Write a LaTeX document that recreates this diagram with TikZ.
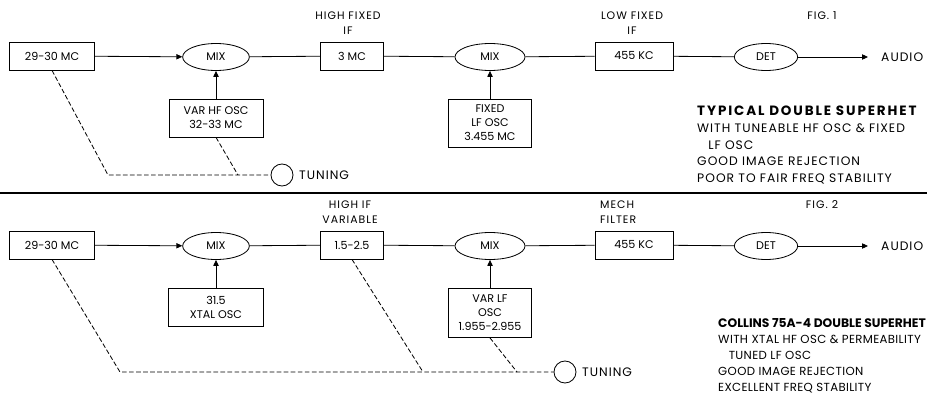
\documentclass[tikz,border=0pt]{standalone}
\usepackage{fontspec}
\setmainfont{Poppins}[Ligatures={NoCommon}]
\newfontfamily\descafont{Poppins}[Ligatures={NoCommon}, LetterSpace=8]
\newfontfamily\headafont{Poppins}[Ligatures={NoCommon}, LetterSpace=14]
\newfontfamily\descbfont{Poppins}[Ligatures={NoCommon}, LetterSpace=3]
\newfontfamily\headbfont{Poppins}[Ligatures={NoCommon}]
\newfontfamily\wordfont{Poppins}[Ligatures={NoCommon}, LetterSpace=8]
\newfontfamily\labelfont{Poppins}[Ligatures={NoCommon}, LetterSpace=9]
\usepackage{tikz}
\usetikzlibrary{arrows.meta,positioning,shapes.geometric,calc}

\begin{document}
\begin{tikzpicture}[
  x=0.03cm, y=-0.03cm,
  font=\fontsize{9.5}{11}\selectfont,
  box/.style={rectangle, draw, line width=0.7pt, align=center, inner sep=1pt, minimum height=0.84cm},
  mixer/.style={ellipse, draw, line width=0.7pt, inner sep=0pt, minimum width=2.0cm, minimum height=0.81cm},
  oscbox/.style={rectangle, draw, line width=0.7pt, align=center, inner sep=1pt, font=\fontsize{9.5}{12}\selectfont},
  label/.style={align=center, inner sep=0pt, font=\labelfont\fontsize{9.3}{12.5}\selectfont},
  word/.style={anchor=west, inner sep=0pt, font=\wordfont\fontsize{10.5}{12}\selectfont},
  desc/.style={align=left, anchor=north west, inner sep=0pt},
  arrow/.style={-{Triangle[length=5pt,width=4.5pt]}, line width=0.7pt},
  link/.style={line width=0.7pt},
  tuneline/.style={dashed, dash pattern=on 4pt off 2pt, line width=0.7pt},
  knob/.style={circle, draw, line width=0.7pt, minimum size=0.66cm, inner sep=0pt}
]
\useasboundingbox (0,0) rectangle (927,395);

\node[box, minimum width=2.55cm] (rf1) at (52,56) {29-30 MC};
\node[mixer] (mixa1) at (216,57) {MIX};
\node[oscbox, minimum width=2.82cm, minimum height=1.14cm] (hfosc1) at (216,118) {VAR HF OSC\\32-33 MC};
\node[box, minimum width=1.89cm] (if1) at (352,56) {3 MC};
\node[mixer, minimum width=2.1cm] (mixb1) at (490,57) {MIX};
\node[oscbox, minimum width=2.49cm, minimum height=1.44cm] (lfosc1) at (490,123) {FIXED\\LF OSC\\3.455 MC};
\node[box, minimum width=2.34cm] (filt1) at (634,56) {455 KC};
\node[mixer, minimum width=1.9cm] (det1) at (766,57) {DET};
\coordinate (out1) at (868,57);
\node[word] (audio1) at (881,57) {AUDIO};

\node[label] (iflab1) at (348,23) {HIGH FIXED\\IF};
\node[label] (filtlab1) at (632,23) {LOW FIXED\\IF};
\node[label] (fig1) at (822,16) {FIG. 1};

\draw[arrow] (rf1) -- (mixa1);
\draw[arrow] (hfosc1) -- (mixa1);
\draw[link] (mixa1) -- (if1);
\draw[link] (if1) -- (mixb1);
\draw[arrow] (lfosc1) -- (mixb1);
\draw[link] (mixb1) -- (filt1);
\draw[link] (filt1) -- (det1);
\draw[arrow] (det1) -- (out1);

\node[knob] (tune1) at (282,175) {};
\node[word] (tunelab1) at (299,175) {TUNING};
\coordinate (ja1) at (108,175);
\coordinate (jb1) at (238,175);
\draw[tuneline] (rf1.south) -- (ja1) -- (tune1.west);
\draw[tuneline] (hfosc1.south) -- (jb1);

\node[desc, font=\descafont\fontsize{10.5}{14.2}\selectfont] (desc1) at (697,106) {{\headafont\fontsize{11.5}{14.2}\selectfont\bfseries TYPICAL DOUBLE SUPERHET}\\WITH TUNEABLE HF OSC \& FIXED\\\hspace{0.9em}LF OSC\\GOOD IMAGE REJECTION\\POOR TO FAIR FREQ STABILITY};

\draw[line width=1.5pt] (0,193) -- (927,193);

\node[box, minimum width=2.55cm] (rf2) at (52,245) {29-30 MC};
\node[mixer] (mixa2) at (216,246) {MIX};
\node[oscbox, minimum width=2.85cm, minimum height=1.14cm] (xtal2) at (216,307) {31.5\\XTAL OSC};
\node[box, minimum width=1.89cm] (if2) at (352,245) {1.5-2.5};
\node[mixer, minimum width=2.1cm] (mixb2) at (490,246) {MIX};
\node[oscbox, minimum width=2.49cm, minimum height=1.47cm] (lfosc2) at (490,313) {VAR LF\\OSC\\1.955-2.955};
\node[box, minimum width=2.34cm] (filt2) at (634,245) {455 KC};
\node[mixer, minimum width=1.9cm] (det2) at (766,246) {DET};
\coordinate (out2) at (868,246);
\node[word] (audio2) at (881,246) {AUDIO};

\node[label] (iflab2) at (350,212) {HIGH IF\\VARIABLE};
\node[label, align=left, anchor=west] (filtlab2) at (600,212) {MECH\\FILTER};
\node[label] (fig2) at (822,205) {FIG. 2};

\draw[arrow] (rf2) -- (mixa2);
\draw[arrow] (xtal2) -- (mixa2);
\draw[link] (mixa2) -- (if2);
\draw[link] (if2) -- (mixb2);
\draw[arrow] (lfosc2) -- (mixb2);
\draw[link] (mixb2) -- (filt2);
\draw[link] (filt2) -- (det2);
\draw[arrow] (det2) -- (out2);

\node[knob] (tune2) at (565,372) {};
\node[word] (tunelab2) at (582,372) {TUNING};
\coordinate (ja2) at (120,372);
\coordinate (jb2) at (423,372);
\coordinate (jc2) at (517,372);
\draw[tuneline] (rf2.south) -- (ja2) -- (tune2.west);
\draw[tuneline] (if2.south) -- (jb2);
\draw[tuneline] (lfosc2.south) -- (jc2);

\node[desc, font=\descbfont\fontsize{10}{13.7}\selectfont] (desc2) at (718,318) {{\headbfont\fontsize{10.5}{13.7}\selectfont\bfseries COLLINS 75A-4 DOUBLE SUPERHET}\\WITH XTAL HF OSC \& PERMEABILITY\\\hspace{0.9em}TUNED LF OSC\\GOOD IMAGE REJECTION\\EXCELLENT FREQ STABILITY};

\end{tikzpicture}
\end{document}
